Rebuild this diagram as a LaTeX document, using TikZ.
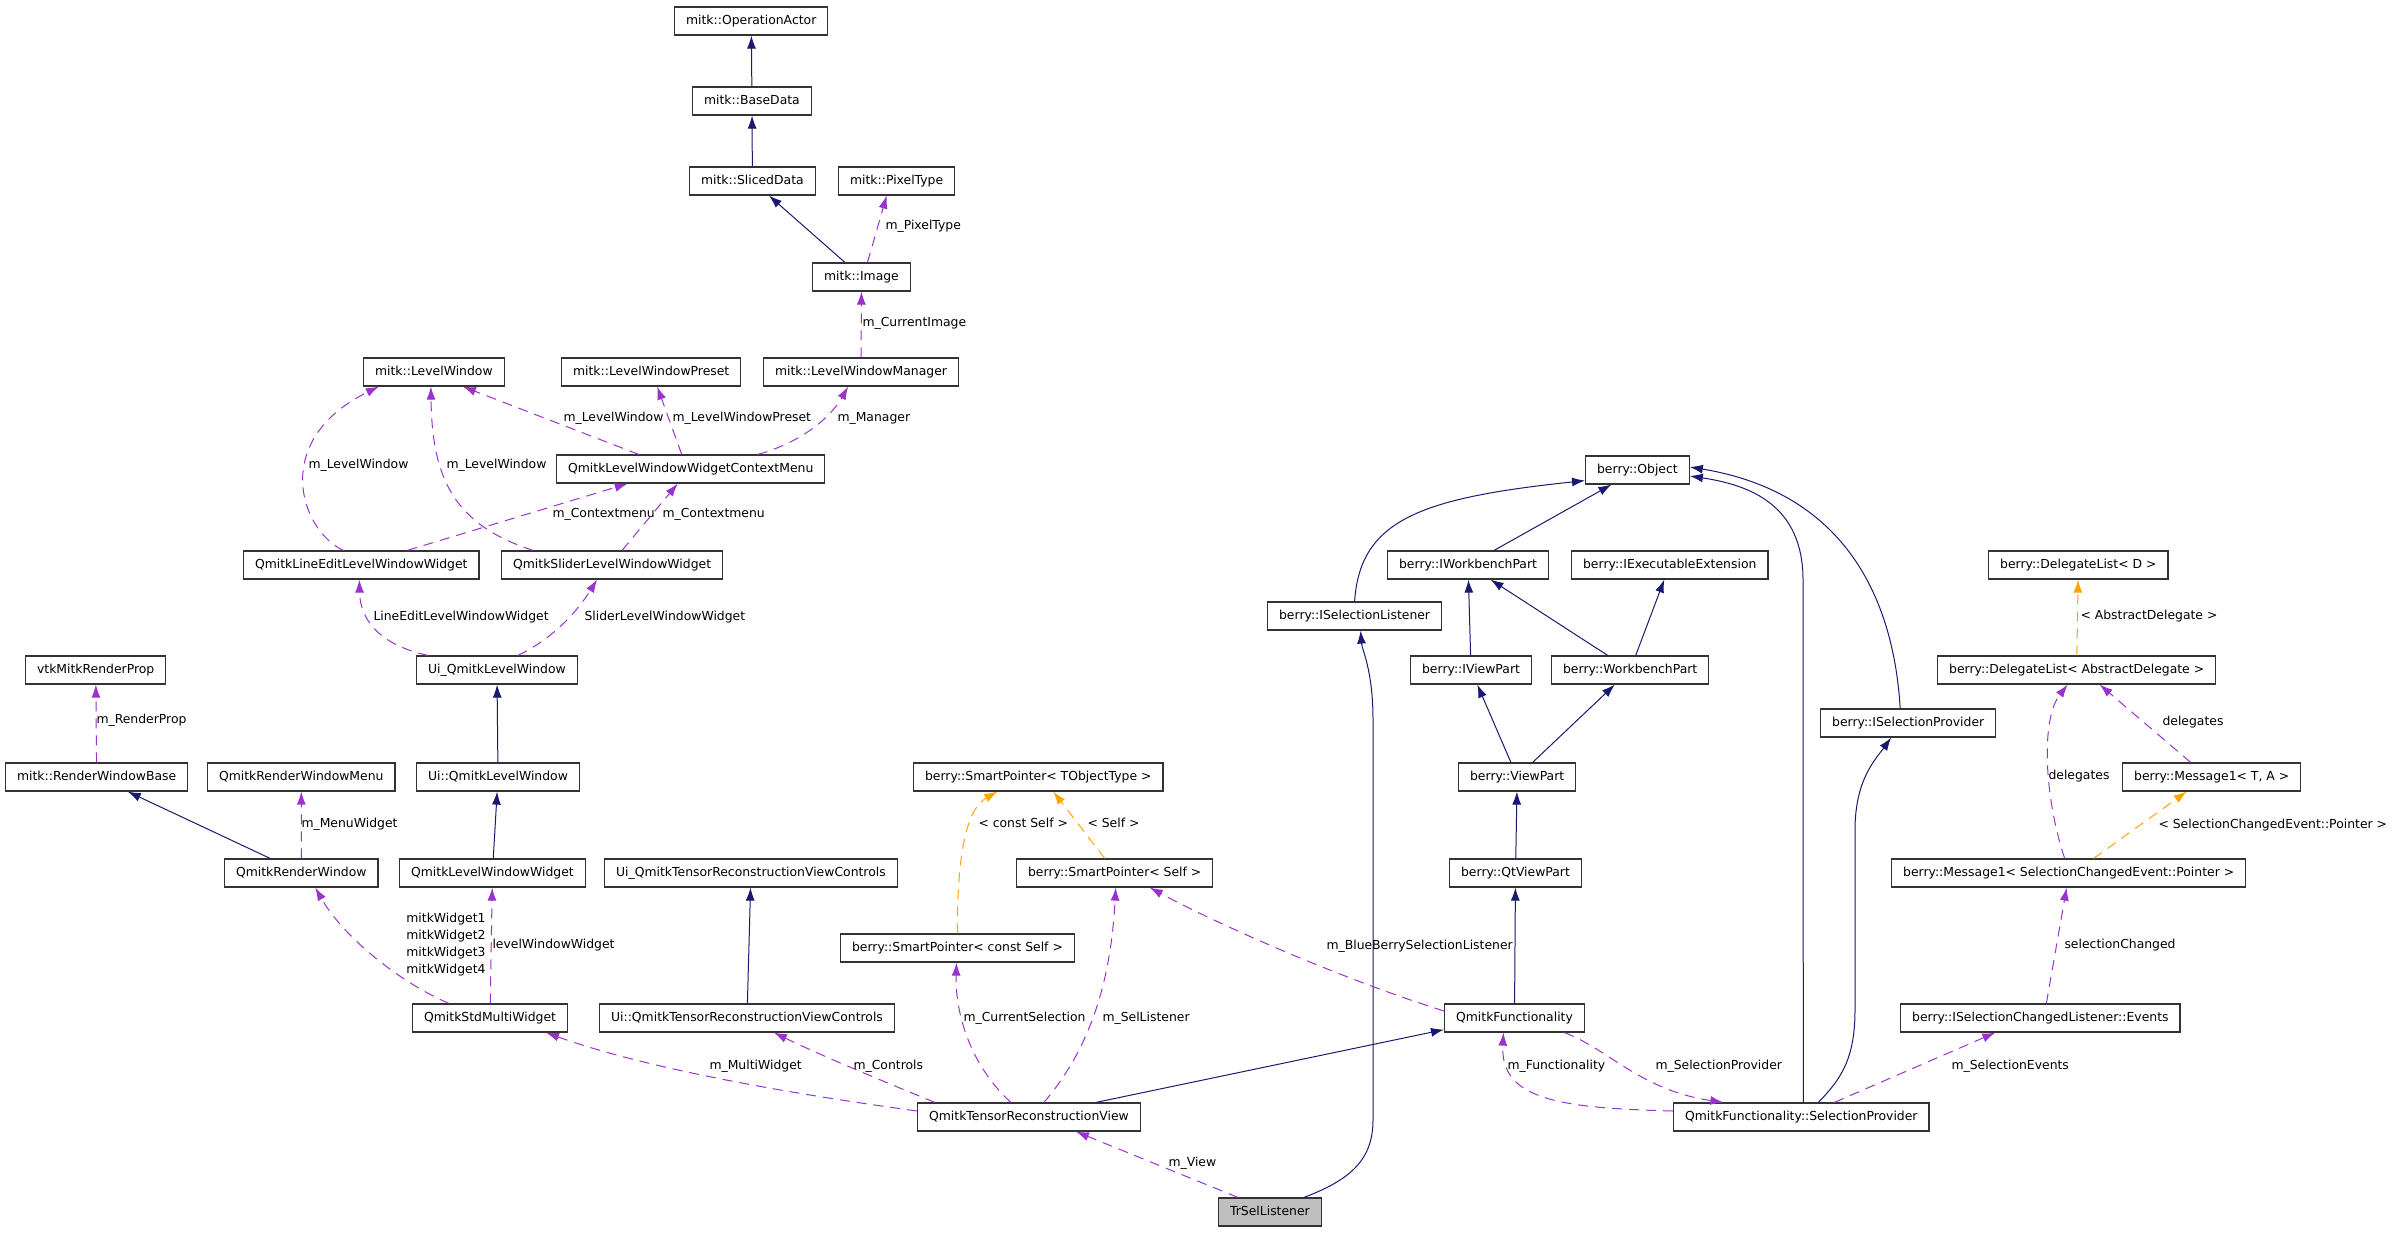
\documentclass[tikz,border=0pt]{standalone}
\usepackage{fontspec}
\setmainfont{DejaVu Sans}
\usepackage{tikz}
\usetikzlibrary{arrows.meta}
\usetikzlibrary{positioning}
\usepackage{xcolor}
\definecolor{edgeblue}{HTML}{191970}
\definecolor{edgepurple}{HTML}{9A32CD}
\definecolor{edgeorange}{HTML}{FFA500}
\newcommand{\dfont}{\fontsize{12.4}{17}\selectfont}
\tikzset{
  % filled arrow heads as in the doxygen graphs
  >={Latex[length=13pt,width=9pt]},
  % class boxes and the three kinds of edges
  box/.style={draw=black!80, line width=1.2pt, fill=white, rectangle, anchor=west,
    inner xsep=11.5pt, inner ysep=0pt, minimum height=28pt, text height=9pt, text depth=3pt, font=\dfont},
  inherit/.style={draw=edgeblue, line width=1pt, ->},
  usage/.style={draw=edgepurple, line width=1pt, dash pattern=on 10pt off 7pt, ->},
  tmpl/.style={draw=edgeorange, line width=1pt, dash pattern=on 10pt off 7pt, ->},
  lbl/.style={font=\dfont, inner sep=1pt, anchor=west}
}

\begin{document}
\begin{tikzpicture}[x=1pt,y=-1pt]
        \path[use as bounding box] (0,0) rectangle (2397,1232);

        % Define nodes
        \node[box] (opActor) at (674,21) {mitk::OperationActor};
        \node[box] (baseData) at (692,101) {mitk::BaseData};
        \node[box] (slicedData) at (689,181) {mitk::SlicedData};
        \node[box] (pixelType) at (838,181) {mitk::PixelType};
        \node[box] (image) at (812,277) {mitk::Image};
        \node[box] (levelWindow) at (363,372) {mitk::LevelWindow};
        \node[box] (lwPreset) at (561,372) {mitk::LevelWindowPreset};
        \node[box] (lwManager) at (763,372) {mitk::LevelWindowManager};
        \node[box] (contextMenu) at (556,469) {QmitkLevelWindowWidgetContextMenu};
        \node[box] (lineEdit) at (243,565) {QmitkLineEditLevelWindowWidget};
        \node[box] (slider) at (501,565) {QmitkSliderLevelWindowWidget};
        \node[box] (uiLevelWindow) at (416,670) {Ui\_QmitkLevelWindow};
        \node[box] (vtkProp) at (25,670) {vtkMitkRenderProp};
        \node[box] (renderWindowBase) at (5,777) {mitk::RenderWindowBase};
        \node[box] (renderWindowMenu) at (207,777) {QmitkRenderWindowMenu};
        \node[box] (uiNsLevelWindow) at (416,777) {Ui::QmitkLevelWindow};
        \node[box] (renderWindow) at (224,873) {QmitkRenderWindow};
        \node[box] (levelWindowWidget) at (399,873) {QmitkLevelWindowWidget};
        \node[box] (uiTensorControls) at (604,873) {Ui\_QmitkTensorReconstructionViewControls};
        \node[box] (stdMultiWidget) at (412,1018) {QmitkStdMultiWidget};
        \node[box] (uiNsTensorControls) at (599,1018) {Ui::QmitkTensorReconstructionViewControls};
        \node[box] (spTObject) at (913,777) {berry::SmartPointer< TObjectType >};
        \node[box] (spSelf) at (1016,873) {berry::SmartPointer< Self >};
        \node[box] (spConstSelf) at (840,948) {berry::SmartPointer< const Self >};
        \node[box] (tensorView) at (917,1117) {QmitkTensorReconstructionView};
        \node[box, fill=black!25] (trSelListener) at (1218,1212) {TrSelListener};
        \node[box] (object) at (1585,470) {berry::Object};
        \node[box] (iWorkbenchPart) at (1387,565) {berry::IWorkbenchPart};
        \node[box] (iExecExt) at (1571,565) {berry::IExecutableExtension};
        \node[box] (iSelListener) at (1267,616) {berry::ISelectionListener};
        \node[box] (iViewPart) at (1410,670) {berry::IViewPart};
        \node[box] (workbenchPart) at (1551,670) {berry::WorkbenchPart};
        \node[box] (viewPart) at (1458,777) {berry::ViewPart};
        \node[box] (qtViewPart) at (1449,873) {berry::QtViewPart};
        \node[box] (functionality) at (1444,1018) {QmitkFunctionality};
        \node[box] (selProvider) at (1673,1117) {QmitkFunctionality::SelectionProvider};
        \node[box] (iSelProvider) at (1820,723) {berry::ISelectionProvider};
        \node[box] (delegateListD) at (1988,565) {berry::DelegateList< D >};
        \node[box] (delegateListAD) at (1937,670) {berry::DelegateList< AbstractDelegate >};
        \node[box] (message1TA) at (2122,777) {berry::Message1< T, A >};
        \node[box] (message1SCE) at (1891,873) {berry::Message1< SelectionChangedEvent::Pointer >};
        \node[box] (iSCLEvents) at (1900,1018) {berry::ISelectionChangedListener::Events};

        % Define connections: inheritance
        \path[inherit] (baseData) -- (opActor);
        \path[inherit] (slicedData) -- (baseData);
        \path[inherit] (image) -- (slicedData);
        \path[inherit] (uiNsLevelWindow) -- (uiLevelWindow);
        \path[inherit] (levelWindowWidget) -- (uiNsLevelWindow);
        \path[inherit] (renderWindow) -- (renderWindowBase);
        \path[inherit] (uiNsTensorControls) -- (uiTensorControls);
        \path[inherit] ([xshift=67]tensorView.north) -- ([yshift=3]functionality.south west);
        \path[inherit] (iSelListener.north) .. controls (1360,520) and (1420,498) .. ([yshift=4]object.south west);
        \path[inherit] (iWorkbenchPart) -- (object);
        \path[inherit] (iViewPart) -- (iWorkbenchPart);
        \path[inherit] (workbenchPart) -- (iWorkbenchPart);
        \path[inherit] (workbenchPart) -- (iExecExt);
        \path[inherit] (viewPart) -- (iViewPart);
        \path[inherit] (viewPart) -- (workbenchPart);
        \path[inherit] (qtViewPart) -- (viewPart);
        \path[inherit] (functionality) -- (qtViewPart);
        \path[inherit] ([xshift=2]selProvider.north) -- (1803,580) .. controls (1803,505) and (1750,485) .. ([yshift=-6]object.east);
        \path[inherit] ([xshift=-8]iSelProvider.north) .. controls (1895,620) and (1860,495) .. ([yshift=3]object.east);
        \path[inherit] ([xshift=17]selProvider.north) .. controls (1840,1080) and (1855,1060) .. (1855,1010) -- (1855,830) .. controls (1855,780) and (1875,760) .. ([xshift=-17]iSelProvider.south);
        \path[inherit] ([xshift=-18]trSelListener.north east) .. controls (1350,1180) and (1373,1160) .. (1373,1120) -- (1373,720) .. controls (1373,670) and (1362,650) .. ([xshift=6]iSelListener.south);

        % Define connections: members
        \path[usage] ([xshift=6]image.north) -- ([xshift=-10]pixelType.south) node[lbl] at (884,226) {m\_PixelType};
        \path[usage] (lwManager) -- (image) node[lbl] at (861,323) {m\_CurrentImage};
        \path[usage] ([xshift=-52]contextMenu.north) -- ([xshift=29]levelWindow.south) node[lbl] at (562,418) {m\_LevelWindow};
        \path[usage] ([xshift=-9]contextMenu.north) -- ([xshift=6]lwPreset.south) node[lbl] at (671,418) {m\_LevelWindowPreset};
        \path[usage] ([xshift=67]contextMenu.north) .. controls (810,440) and (835,410) .. ([xshift=-13]lwManager.south) node[lbl] at (836,418) {m\_Manager};
        \path[usage] ([xshift=-18]lineEdit.north) .. controls (300,530) and (270,440) .. ([xshift=-55]levelWindow.south) node[lbl] at (307,465) {m\_LevelWindow};
        \path[usage] ([xshift=-79]slider.north) .. controls (455,525) and (432,480) .. ([xshift=-3]levelWindow.south) node[lbl] at (445,465) {m\_LevelWindow};
        \path[usage] ([xshift=46]lineEdit.north) -- ([xshift=-63]contextMenu.south) node[lbl] at (551,514) {m\_Contextmenu};
        \path[usage] ([xshift=10]slider.north) -- ([xshift=-13]contextMenu.south) node[lbl] at (661,514) {m\_Contextmenu};
        \path[usage] ([xshift=-69]uiLevelWindow.north) .. controls (380,645) and (360,620) .. ([xshift=-2]lineEdit.south) node[lbl] at (372,617) {LineEditLevelWindowWidget};
        \path[usage] ([xshift=21]uiLevelWindow.north) .. controls (550,640) and (575,615) .. ([xshift=-15]slider.south) node[lbl] at (583,617) {SliderLevelWindowWidget};
        \path[usage] (renderWindowBase) -- (vtkProp) node[lbl] at (95,720) {m\_RenderProp};
        \path[usage] (renderWindow) -- (renderWindowMenu) node[lbl] at (300,824) {m\_MenuWidget};
        \path[usage] ([xshift=-41]stdMultiWidget.north) .. controls (405,985) and (345,940) .. ([xshift=14]renderWindow.south)
          node[lbl, anchor=east, align=right] at (487,945) {mitkWidget1\\mitkWidget2\\mitkWidget3\\mitkWidget4};
        \path[usage] (stdMultiWidget) -- (levelWindowWidget) node[lbl] at (491,945) {levelWindowWidget};
        \path[usage] ([yshift=6]tensorView.west) .. controls (800,1095) and (650,1070) .. ([xshift=56]stdMultiWidget.south) node[lbl] at (708,1066) {m\_MultiWidget};
        \path[usage] ([xshift=-94]tensorView.north) .. controls (880,1080) and (820,1055) .. ([xshift=27]uiNsTensorControls.south) node[lbl] at (852,1066) {m\_Controls};
        \path[usage] ([xshift=-18]tensorView.north) .. controls (975,1070) and (955,1020) .. ([xshift=-1]spConstSelf.south) node[lbl] at (962,1018) {m\_CurrentSelection};
        \path[usage] ([xshift=15]tensorView.north) .. controls (1080,1060) and (1110,1000) .. ([xshift=1]spSelf.south) node[lbl] at (1101,1018) {m\_SelListener};
        \path[usage] ([yshift=7]functionality.west) .. controls (1330,975) and (1210,920) .. ([xshift=35]spSelf.south) node[lbl] at (1325,946) {m\_BlueBerrySelectionListener};
        \path[usage] ([xshift=50]functionality.south) .. controls (1610,1050) and (1640,1090) .. ([xshift=-78]selProvider.north) node[lbl] at (1654,1066) {m\_SelectionProvider};
        \path[usage] ([yshift=6]selProvider.west) .. controls (1560,1108) and (1500,1100) .. ([xshift=-11]functionality.south) node[lbl] at (1506,1066) {m\_Functionality};
        \path[usage] ([xshift=33]selProvider.north) -- ([xshift=-45]iSCLEvents.south) node[lbl] at (1950,1066) {m\_SelectionEvents};
        \path[usage] ([xshift=6]iSCLEvents.north) -- ([xshift=-2]message1SCE.south) node[lbl] at (2063,945) {selectionChanged};
        \path[usage] ([xshift=-4]message1SCE.north) .. controls (2045,800) and (2040,720) .. ([xshift=-9]delegateListAD.south) node[lbl] at (2047,776) {delegates};
        \path[usage] ([xshift=-21]message1TA.north) -- ([xshift=23]delegateListAD.south) node[lbl] at (2161,722) {delegates};
        \path[usage] ([xshift=-32]trSelListener.north) -- ([xshift=47]tensorView.south) node[lbl] at (1167,1163) {m\_View};

        % Define connections: template instances
        \path[tmpl] (spConstSelf.north) .. controls (957,860) and (965,810) .. ([xshift=-41]spTObject.south) node[lbl] at (977,823) {< const Self >};
        \path[tmpl] ([xshift=-10]spSelf.north) -- ([xshift=15]spTObject.south) node[lbl] at (1086,823) {< Self >};
        \path[tmpl] (delegateListAD) -- (delegateListD) node[lbl] at (2079,616) {< AbstractDelegate >};
        \path[tmpl] ([xshift=25]message1SCE.north) -- ([xshift=-25]message1TA.south) node[lbl] at (2157,825) {< SelectionChangedEvent::Pointer >};
    \end{tikzpicture}
\end{document}
